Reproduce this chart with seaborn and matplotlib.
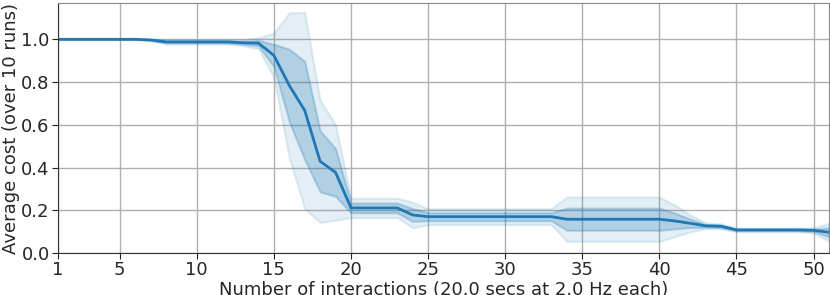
import numpy as np
import matplotlib
matplotlib.use("Agg")
import matplotlib.pyplot as plt
import seaborn as sns

# interaction index
interactions = list(range(1, 52))

# average cost over 10 runs
mean_cost = [1.0, 1.0, 1.0, 1.0, 1.0, 1.0,
             0.997,
             0.988, 0.988, 0.988, 0.988, 0.988,
             0.984, 0.982,
             0.925, 0.784, 0.667, 0.429, 0.377,
             0.211, 0.211, 0.211, 0.211,
             0.178,
             0.170, 0.170, 0.170, 0.170, 0.170, 0.170, 0.170, 0.170, 0.170,
             0.158, 0.158, 0.158, 0.158, 0.158, 0.158, 0.158,
             0.150, 0.139, 0.127, 0.125,
             0.108, 0.108, 0.108, 0.108, 0.108, 0.106,
             0.097]

# standard deviation over runs
std_cost = [0.0, 0.0, 0.0, 0.0, 0.0, 0.0,
            0.002,
            0.005, 0.005, 0.005, 0.005, 0.005,
            0.007, 0.013,
            0.052, 0.170, 0.230, 0.143, 0.112,
            0.023, 0.023, 0.023, 0.023,
            0.030,
            0.019, 0.019, 0.019, 0.019, 0.019, 0.019, 0.019, 0.019, 0.019,
            0.052, 0.052, 0.052, 0.052, 0.052, 0.052, 0.052,
            0.037, 0.020, 0.007, 0.006,
            0.004, 0.004, 0.004, 0.004, 0.004, 0.006,
            0.021]

x_ticks = [1, 5, 10, 15, 20, 25, 30, 35, 40, 45, 50]

sns.set_style("ticks")
plt.rcParams['font.family'] = ['DejaVu Sans']
plt.rcParams['font.size'] = 13

fig = plt.figure(figsize=(8.3, 2.95), dpi=100)
ax = fig.add_axes([58 / 830, 42 / 295, 771 / 830, 250 / 295])

x = np.array(interactions)
m = np.array(mean_cost)
s = np.array(std_cost)
color = "#1f77b4"

# +-2 std and +-1 std bands
ax.fill_between(x, m - 2 * s, m + 2 * s, color=color, alpha=0.12, linewidth=1.5)
ax.fill_between(x, m - s, m + s, color=color, alpha=0.25, linewidth=1.5)
sns.lineplot(x=x, y=m, ax=ax, color=color, linewidth=2)

ax.set_xlim(1, 51)
ax.set_ylim(0, 1.17)
ax.set_xticks(x_ticks)
ax.set_yticks([0.0, 0.2, 0.4, 0.6, 0.8, 1.0])
ax.grid(True, color="#b0b0b0", linewidth=1)
ax.set_axisbelow(True)
ax.tick_params(labelsize=13, length=4, color="#222222", pad=2)
for side in ["top", "right"]:
    ax.spines[side].set_color("#888888")
for side in ["left", "bottom"]:
    ax.spines[side].set_color("#333333")

ax.set_xlabel("Number of interactions (20.0 secs at 2.0 Hz each)", fontsize=13, labelpad=1)
ax.set_ylabel("Average cost (over 10 runs)", fontsize=13, labelpad=1)

fig.savefig("out.png", dpi=100)
